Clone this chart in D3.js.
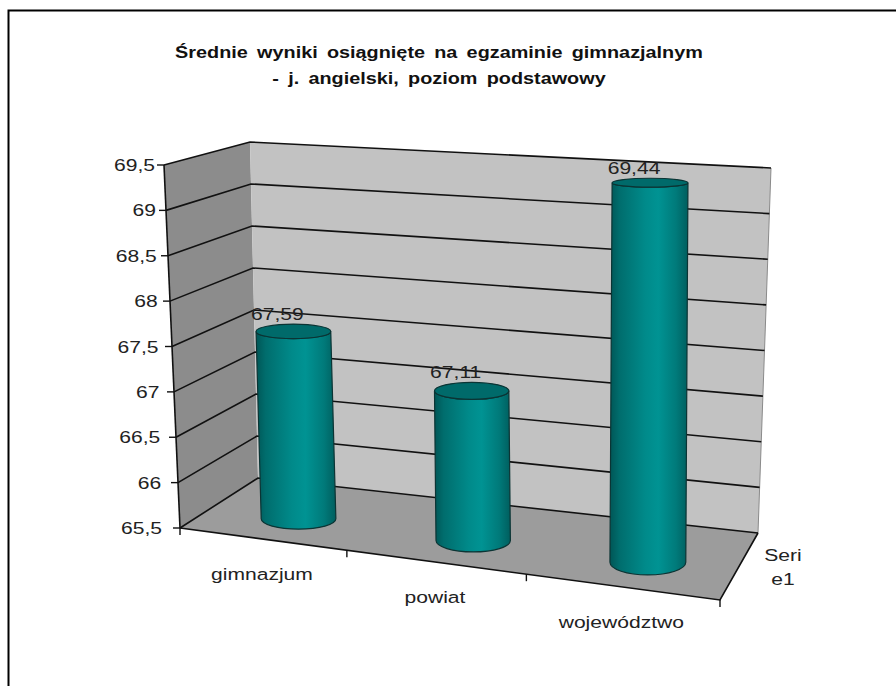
<!DOCTYPE html>
<html>
<head>
<meta charset="utf-8">
<script src="https://cdn.jsdelivr.net/npm/d3@7"></script>
<style>
  body { margin: 0; background: #fff; }
  svg { display: block; font-family: "Liberation Sans", Arial, sans-serif; }
</style>
</head>
<body>
<div id="chart"></div>
<script>
// data
const categories = ["gimnazjum", "powiat", "województwo"];
const values = [67.59, 67.11, 69.44];
const valueLabels = ["67,59", "67,11", "69,44"];
const yTicks = [65.5, 66, 66.5, 67, 67.5, 68, 68.5, 69, 69.5];
const yTickLabels = ["65,5", "66", "66,5", "67", "67,5", "68", "68,5", "69", "69,5"];
const seriesLabel = ["Seri", "e1"];
const titleLines = ["Średnie wyniki osiągnięte na egzaminie gimnazjalnym", "- j. angielski, poziom podstawowy"];

const W = 896, H = 686;
const SX = 1.24; // text in the picture is stretched sideways

const svg = d3.select("#chart").append("svg")
    .attr("width", W)
    .attr("height", H);

// outer frame (only left and top edges are in view)
svg.append("rect")
    .attr("x", 8.5).attr("y", 10.5)
    .attr("width", 1000).attr("height", 1000)
    .attr("fill", "none")
    .attr("stroke", "#000")
    .attr("stroke-width", 2);

// the 3d box as it lands on screen: f/b = front/back, l/r = left/right, b/t = bottom/top
const corner = {
    flb: [180, 528], flt: [164, 165],
    blb: [258, 478], blt: [250, 142],
    frb: [720, 600], frt: [720, 190],
    brb: [758, 533], brt: [771, 168]
};

function lerp(a, b, t) { return [a[0] + (b[0] - a[0]) * t, a[1] + (b[1] - a[1]) * t]; }

// perspective squeeze along the front edge (left side is further away)
function warp(u, w) {
    const c = 1 + 0.118 * Math.max(0, 1 - w / 0.4);
    return u / (u + c * (1 - u));
}

// u: along categories, v: value, w: depth (0 front, 1 back)
function proj(u, v, w) {
    u = warp(u, w);
    const bot = lerp(lerp(corner.flb, corner.frb, u), lerp(corner.blb, corner.brb, u), w);
    const top = lerp(lerp(corner.flt, corner.frt, u), lerp(corner.blt, corner.brt, u), w);
    return lerp(bot, top, v);
}
const poly = pts => "M" + pts.map(p => p.join(",")).join("L") + "Z";
const line = d3.line();

const x = d3.scaleBand().domain(categories).range([0, 1]);
const y = d3.scaleLinear().domain([65.5, 69.5]).range([0, 1]);

// walls and floor
svg.append("path").attr("d", poly([proj(0,0,0), proj(0,1,0), proj(0,1,1), proj(0,0,1)]))
    .attr("fill", "#8c8c8c");
svg.append("path").attr("d", poly([proj(0,0,1), proj(0,1,1), proj(1,1,1), proj(1,0,1)]))
    .attr("fill", "#c2c2c2");
svg.append("path").attr("d", poly([proj(0,0,0), proj(0,0,1), proj(1,0,1), proj(1,0,0)]))
    .attr("fill", "#9c9c9c");

// back wall right edge
svg.append("path").attr("d", line([proj(1,0,1), proj(1,1,1)]))
    .attr("stroke", "#8a8a8a").attr("stroke-width", 1).attr("fill", "none");

// gridlines on left and back wall
svg.append("g")
    .selectAll("path")
    .data(yTicks)
    .join("path")
    .attr("d", t => line([proj(0, y(t), 0), proj(0, y(t), 1), proj(1, y(t), 1)]))
    .attr("fill", "none")
    .attr("stroke", "#111")
    .attr("stroke-width", 1.6);

// floor edges
svg.append("path").attr("d", line([proj(0,0,0), proj(1,0,0), proj(1,0,1)]))
    .attr("fill", "none").attr("stroke", "#111").attr("stroke-width", 1.6);

// cylinder shading
const defs = svg.append("defs");
const grad = defs.append("linearGradient").attr("id", "cyl").attr("x1", 0).attr("x2", 1).attr("y1", 0).attr("y2", 0);
[[0, "#005656"], [0.12, "#006d6d"], [0.45, "#008a8a"], [0.62, "#009393"], [0.85, "#007a7a"], [1, "#005e5e"]]
    .forEach(s => grad.append("stop").attr("offset", s[0]).attr("stop-color", s[1]));

const wMid = 0.4, halfU = x.bandwidth() * 0.21, rDepth = 0.2;
const bars = categories.map((c, i) => {
    const u = x(c) + x.bandwidth() / 2;
    const v = y(values[i]);
    const b = proj(u, 0, wMid), t = proj(u, v, wMid);
    const rx = (proj(u + halfU, v, wMid)[0] - proj(u - halfU, v, wMid)[0]) / 2;
    const ryb = rDepth * Math.abs(proj(u, 0, 1)[1] - proj(u, 0, 0)[1]);
    const ryt = rDepth * Math.abs(proj(u, v, 1)[1] - proj(u, v, 0)[1]);
    return { name: c, label: valueLabels[i], b, t, rx, ryb, ryt };
});

const cyl = svg.append("g").selectAll("g").data(bars).join("g");
cyl.append("path")
    .attr("d", d => `M${d.t[0] - d.rx},${d.t[1]} L${d.b[0] - d.rx},${d.b[1]}`
        + ` A${d.rx},${d.ryb} 0 0 0 ${d.b[0] + d.rx},${d.b[1]}`
        + ` L${d.t[0] + d.rx},${d.t[1]}`
        + ` A${d.rx},${d.ryt} 0 0 1 ${d.t[0] - d.rx},${d.t[1]} Z`)
    .attr("fill", "url(#cyl)")
    .attr("stroke", "#0b3434")
    .attr("stroke-width", 1.2);
cyl.append("ellipse")
    .attr("cx", d => d.t[0]).attr("cy", d => d.t[1])
    .attr("rx", d => d.rx).attr("ry", d => d.ryt)
    .attr("fill", "#006a6a")
    .attr("stroke", "#0b3434")
    .attr("stroke-width", 1.2);

// value labels
svg.append("g")
    .selectAll("text")
    .data(bars)
    .join("text")
    .attr("transform", d => `translate(${d.t[0] - 16},${d.t[1] - d.ryt - 4}) scale(${SX},1)`)
    .attr("text-anchor", "middle")
    .style("font-size", "17px")
    .attr("fill", "#222")
    .text(d => d.label);

// value axis
svg.append("path").attr("d", line([proj(0,0,0), proj(0,1,0)]))
    .attr("stroke", "#111").attr("stroke-width", 1.6);
const yAxis = svg.append("g").selectAll("g").data(yTicks).join("g")
    .attr("transform", t => `translate(${proj(0, y(t), 0).join(",")})`);
yAxis.append("line").attr("x1", -7).attr("x2", 0).attr("stroke", "#111").attr("stroke-width", 1.4);
yAxis.append("text")
    .attr("transform", t => `translate(${-18 + 9 * y(t)},6) scale(${SX},1)`)
    .attr("text-anchor", "end")
    .style("font-size", "17px")
    .attr("fill", "#222")
    .text((t, i) => yTickLabels[i]);

// category ticks and labels along the front edge
svg.append("g").selectAll("line")
    .data([0, 1 / 3, 2 / 3, 1])
    .join("line")
    .attr("x1", u => proj(u, 0, 0)[0]).attr("y1", u => proj(u, 0, 0)[1])
    .attr("x2", u => proj(u, 0, 0)[0]).attr("y2", u => proj(u, 0, 0)[1] + 7)
    .attr("stroke", "#111").attr("stroke-width", 1.4);
svg.append("g").selectAll("text")
    .data(categories)
    .join("text")
    .attr("transform", c => {
        const p = proj(x(c) + x.bandwidth() / 2, 0, 0);
        return `translate(${p[0]},${p[1] + 41}) scale(${SX},1)`;
    })
    .attr("text-anchor", "middle")
    .style("font-size", "17px")
    .attr("fill", "#222")
    .text(c => c);

// series (depth) axis label
svg.append("g").selectAll("text")
    .data(seriesLabel)
    .join("text")
    .attr("transform", (s, i) => {
        const p = proj(1, 0, 0.5);
        return `translate(${p[0] + 44},${p[1] - 6 + i * 24}) scale(${SX},1)`;
    })
    .attr("text-anchor", "middle")
    .style("font-size", "17px")
    .attr("fill", "#222")
    .text(s => s);

// title
svg.append("g").selectAll("text")
    .data(titleLines)
    .join("text")
    .attr("transform", (s, i) => `translate(439,${58 + i * 26}) scale(${SX},1)`)
    .attr("text-anchor", "middle")
    .style("font-size", "16px")
    .style("font-weight", "bold")
    .style("word-spacing", "3px")
    .attr("fill", "#111")
    .text(s => s);
</script>
</body>
</html>
